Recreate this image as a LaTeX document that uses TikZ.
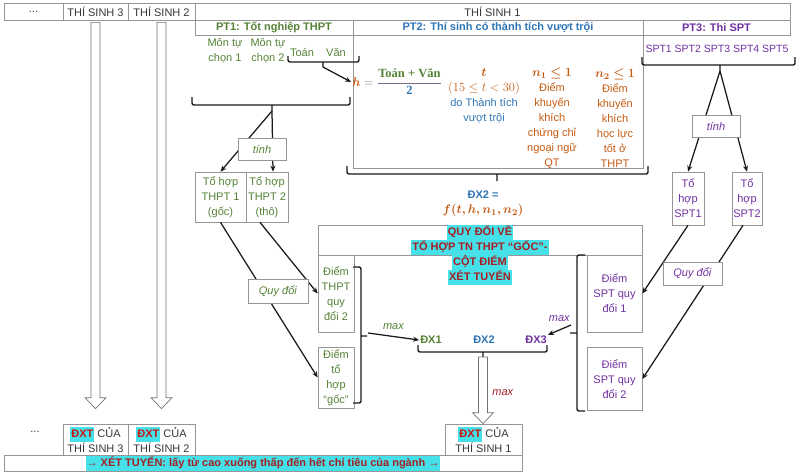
\RequirePackage{fix-cm}
\documentclass[tikz,border=0pt]{standalone}
\usepackage{amsmath,bm}
\usepackage[no-math]{fontspec}
\setmainfont{Liberation Sans}
\newfontfamily\serifvn{Liberation Serif}
\usetikzlibrary{arrows.meta,calc}

\definecolor{framegray}{RGB}{150,150,150}
\definecolor{inkgray}{RGB}{55,55,55}
\definecolor{ptgreen}{RGB}{84,130,53}
\definecolor{ptblue}{RGB}{46,117,182}
\definecolor{ptpurple}{RGB}{112,48,160}
\definecolor{ptorange}{RGB}{197,90,17}
\definecolor{qred}{RGB}{165,30,35}
\definecolor{xred}{RGB}{200,20,20}
\definecolor{hlcyan}{RGB}{70,225,232}
\definecolor{fracgray}{RGB}{120,110,140}

\newcommand{\hlt}[1]{{\setlength{\fboxsep}{0pt}\colorbox{hlcyan}{\hspace{1pt}\strut#1\hspace{1pt}}}}
\newcommand{\mathbig}{\fontsize{12.5}{15}\selectfont}
\newcommand{\fatarrow}[2]{%
  \draw[hollow] let \p1=(#1), \p2=(#2) in
    (\x1-4.5pt,\y1) -- (\x1-4.5pt,\y2+11pt) -- (\x1-10.5pt,\y2+11pt) -- (\x1,\y2)
    -- (\x1+10.5pt,\y2+11pt) -- (\x1+4.5pt,\y2+11pt) -- (\x1+4.5pt,\y1) -- cycle;}

\tikzset{
  cell/.style={draw=framegray, line width=0.7pt, inner sep=0pt, align=center, text=inkgray},
  note/.style={align=center, inner sep=1pt},
  tag/.style={draw=framegray, line width=0.7pt, fill=white, inner sep=0pt},
  link/.style={-{Stealth[length=6pt,width=5pt]}, line width=1.25pt, black!90},
  brk/.style={line width=1.4pt, rounded corners=2pt, black!90},
  hollow/.style={draw=black!55, fill=white, line width=0.7pt},
}

\begin{document}
\begin{tikzpicture}[x=1pt,y=-1pt,font=\fontsize{11}{15}\selectfont]
\useasboundingbox (0,0) rectangle (800,475);

\node[cell,minimum width=59pt,minimum height=17pt] (dots) at (33.5,11.5) {...};
\node[cell,minimum width=65pt,minimum height=17pt] (ts3) at (95.5,11.5) {THÍ SINH 3};
\node[cell,minimum width=67pt,minimum height=17pt] (ts2) at (161.5,11.5) {THÍ SINH 2};
\node[cell,minimum width=595pt,minimum height=17pt] (ts1) at (492.5,11.5) {THÍ SINH 1};
\node[cell,minimum width=158pt,minimum height=15pt,text=ptgreen,font=\fontsize{11}{15}\selectfont\bfseries] (pt1) at (274,27.5) {PT1: Tốt nghiệp THPT};
\node[cell,minimum width=290pt,minimum height=15pt,text=ptblue,font=\fontsize{11}{15}\selectfont\bfseries] (pt2) at (498,27.5) {PT2: Thí sinh có thành tích vượt trội};
\node[cell,minimum width=147pt,minimum height=15pt,text=ptpurple,font=\fontsize{11}{15}\selectfont\bfseries] (pt3) at (716.5,27.5) {PT3: Thi SPT};
\node[cell,minimum width=290pt,minimum height=133pt] (pt2box) at (498,101.5) {};

\node[note,text=ptgreen] (mon1) at (225,51) {Môn tự\\chọn 1};
\node[note,text=ptgreen] (mon2) at (268,51) {Môn tự\\chọn 2};
\node[note,text=ptgreen] (toan) at (302,52) {Toán};
\node[note,text=ptgreen] (van) at (336,52) {Văn};
\draw[brk] (288,56) -- (288,62) -- (359,62) -- (359,56) (323,62) -- (323,67);
\coordinate (toantip) at (323,67);
\draw[brk] (192,97) -- (192,105) -- (350,105) -- (350,97) (272,105) -- (272,111);
\coordinate (pt1tip) at (272,111);

\node[note,text=fracgray,font=\mathbig] (hform) at (397,82) {$\textcolor{ptorange}{\bm{h}} = \dfrac{\textcolor{ptgreen}{\textbf{\serifvn Toán + Văn}}}{\textcolor{ptblue}{\text{\serifvn\bfseries 2}}}$};
\node[note] (tcol) at (484,96) {\textcolor{ptorange}{\mathbig$\bm{t}$}\\\textcolor{ptorange}{\mathbig$(15\le t<30)$}\\\textcolor{ptblue}{do Thành tích}\\\textcolor{ptblue}{vượt trội}};
\node[note,text=ptorange] (n1col) at (552,118) {{\mathbig$\bm{n_1\le 1}$}\\Điểm\\khuyến\\khích\\chứng chỉ\\ngoại ngữ\\QT};
\node[note,text=ptorange] (n2col) at (615,118) {{\mathbig$\bm{n_2\le 1}$}\\Điểm\\khuyến\\khích\\học lực\\tốt ở\\THPT};
\draw[brk] (347,166) -- (347,174) -- (648,174) -- (648,166) (497,174) -- (497,181);
\node[note] (dx2eq) at (483,203.5) {\textcolor{ptblue}{\textbf{ĐX2 =}}\\\textcolor{ptorange}{\mathbig$\bm{f(t,h,n_1,n_2)}$}};

\node[note,text=ptpurple,font=\fontsize{10.5}{15}\selectfont] (spttext) at (717,49) {SPT1 SPT2 SPT3 SPT4 SPT5};
\draw[brk] (642,57) -- (642,65) -- (795,65) -- (795,57) (720,65) -- (720,71);
\coordinate (spttip) at (720,71);

\node[cell,minimum width=51pt,minimum height=50pt,text=ptgreen] (thpt1) at (220.5,197) {Tổ hợp\\THPT 1\\(gốc)};
\node[cell,minimum width=42pt,minimum height=50pt,text=ptgreen] (thpt2) at (267,197) {Tổ hợp\\THPT 2\\(thô)};
\node[cell,minimum width=32pt,minimum height=53pt,text=ptpurple] (spt1) at (688,198.5) {Tổ\\hợp\\SPT1};
\node[cell,minimum width=30pt,minimum height=53pt,text=ptpurple] (spt2) at (747,198.5) {Tổ\\hợp\\SPT2};

\node[cell,minimum width=324pt,minimum height=30pt] (quybox) at (480,240) {};
\node[cell,minimum width=36pt,minimum height=77pt,text=ptgreen] (thptqd) at (336,293.5) {Điểm\\THPT\\quy\\đổi 2};
\node[cell,minimum width=36pt,minimum height=61pt,text=ptgreen] (goc) at (336,377.5) {Điểm\\tổ\\hợp\\“gốc”};
\node[cell,minimum width=55pt,minimum height=77pt,text=ptpurple] (sptq1) at (614.5,293.5) {Điểm\\SPT quy\\đổi 1};
\node[cell,minimum width=55pt,minimum height=63pt,text=ptpurple] (sptq2) at (614.5,379) {Điểm\\SPT quy\\đổi 2};
\node[note,inner sep=0pt,text=qred,font=\fontsize{11}{15}\selectfont\bfseries] (quytext) at (480,254.5) {\hlt{QUY ĐỔI VỀ}\\\hlt{TỔ HỢP TN THPT “GỐC”-}\\\hlt{CỘT ĐIỂM}\\\hlt{XÉT TUYỂN}};

\draw[brk] (353,267) -- (361,267) -- (361,403) -- (353,403) (361,336) -- (367,336);
\coordinate (leftmax) at (368,333);
\draw[brk] (585,255) -- (577,255) -- (577,411) -- (585,411) (577,333) -- (570,333);
\coordinate (rightmax) at (571,325);

\node[note,text=ptgreen,font=\fontsize{11}{15}\selectfont\bfseries] (dx1) at (431,340) {ĐX1};
\node[note,text=ptblue,font=\fontsize{11}{15}\selectfont\bfseries] (dx2) at (484,340) {ĐX2};
\node[note,text=ptpurple,font=\fontsize{11}{15}\selectfont\bfseries] (dx3) at (536,340) {ĐX3};
\draw[brk] (418,345) -- (418,352) -- (547,352) -- (547,345) (483,352) -- (483,357);
\coordinate (dxtip) at (483,357);

\node[cell,minimum width=65pt,minimum height=31pt] (dxt3) at (95.5,439.5) {\hlt{\textcolor{xred}{\textbf{ĐXT}}} CỦA\\THÍ SINH 3};
\node[cell,minimum width=67pt,minimum height=31pt] (dxt2) at (161.5,439.5) {\hlt{\textcolor{xred}{\textbf{ĐXT}}} CỦA\\THÍ SINH 2};
\node[cell,minimum width=77pt,minimum height=31pt] (dxt1) at (483.5,439.5) {\hlt{\textcolor{xred}{\textbf{ĐXT}}} CỦA\\THÍ SINH 1};
\node[note,text=inkgray] (dotsb) at (35,432) {...};
\node[cell,minimum width=518pt,minimum height=16pt,text=qred,font=\fontsize{11}{15}\selectfont\bfseries] (bar) at (263,463) {\hlt{→ XÉT TUYỂN: lấy từ cao xuống thấp đến hết chỉ tiêu của ngành →}};

\draw[link] (toantip) -- (hform.west);
\draw[link] (pt1tip) -- (thpt1.north);
\draw[link] (pt1tip) -- ([xshift=6pt]thpt2.north);
\draw[link] (spttip) -- (spt1.north);
\draw[link] (spttip) -- (spt2.north);
\draw[link] (thpt1.south) -- (goc.west);
\draw[link] ([xshift=-7pt]thpt2.south) -- (thptqd.west);
\draw[link] (spt1.south) -- (sptq1.east);
\draw[link] ([xshift=-4pt]spt2.south) -- (sptq2.east);
\draw[link] (leftmax) -- node[above=3pt,text=ptgreen]{\textit{max}} (dx1.west);
\draw[link] (rightmax) -- node[above=4pt,text=ptpurple]{\textit{max}} (dx3.north east);

\node[tag,text=ptgreen,minimum width=48pt,minimum height=22pt] (tinhL) at (262,149) {\textit{tính}};
\node[tag,text=ptpurple,minimum width=48pt,minimum height=22pt] (tinhR) at (716,126) {\textit{tính}};
\node[tag,text=ptgreen,minimum width=60pt,minimum height=24pt] (quyL) at (278,291) {\textit{Quy đổi}};
\node[tag,text=ptpurple,minimum width=59pt,minimum height=23pt] (quyR) at (692.5,273.5) {\textit{Quy đổi}};

\fatarrow{[yshift=-2pt]ts3.south}{[yshift=15pt]dxt3.north}
\fatarrow{[yshift=-2pt]ts2.south}{[yshift=15pt]dxt2.north}
\fatarrow{dxtip}{dxt1.north}
\node[note,text=qred] (maxlbl) at (503,393) {\textit{max}};

\end{tikzpicture}
\end{document}
